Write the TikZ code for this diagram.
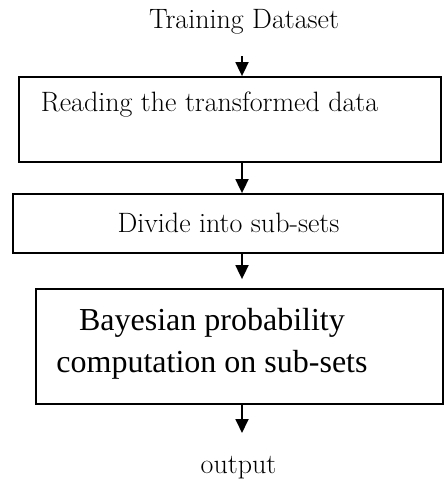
\documentclass[tikz,border=0pt]{standalone}
\usepackage{fontspec}
\newfontfamily\timesfont{Liberation Serif}
\usetikzlibrary{arrows.meta}
\tikzset{
  stage/.style={draw, line width=1.8pt, minimum width=#1, inner sep=0pt},
  caption/.style={font=\fontsize{28}{32}\selectfont, inner sep=0pt},
  flow/.style={line width=1.8pt, -{Triangle[width=13pt,length=14pt]}}
}
\begin{document}
\begin{tikzpicture}[x=1pt,y=-1pt]
  \useasboundingbox (0,0) rectangle (444,479);
  % column of the connectors
  \coordinate (axis) at (242,0);
  % stage boxes
  \node[stage=422pt, minimum height=85pt] (read) at (230,119.5) {};
  \node[stage=430pt, minimum height=59pt] (divide) at (228,223.5) {};
  \node[stage=407pt, minimum height=115pt] (bayes) at (239.5,346.5) {};
  % texts
  \node[caption] (train) at (244,22) {Training Dataset};
  \node[caption] (readtxt) at (209.5,105) {Reading the transformed data};
  \node[caption] (dividetxt) at (228.5,223) {Divide into sub-sets};
  \node[font=\timesfont\fontsize{32}{42}\selectfont, inner sep=0pt, align=center] (bayestxt) at (212,344)
    {Bayesian probability\\computation on sub-sets};
  \node[caption] (out) at (238.5,468) {output};
  % connectors
  \draw[flow] (axis |- 0,56) coordinate (a0) -- (read.north -| axis);
  \draw[flow] (read.south -| axis) -- (divide.north -| axis);
  \draw[flow, shorten >=9pt] (divide.south -| axis) -- (bayes.north -| axis);
  \draw[flow] (bayes.south -| axis) -- (axis |- 0,433) coordinate (a4);
\end{tikzpicture}
\end{document}
